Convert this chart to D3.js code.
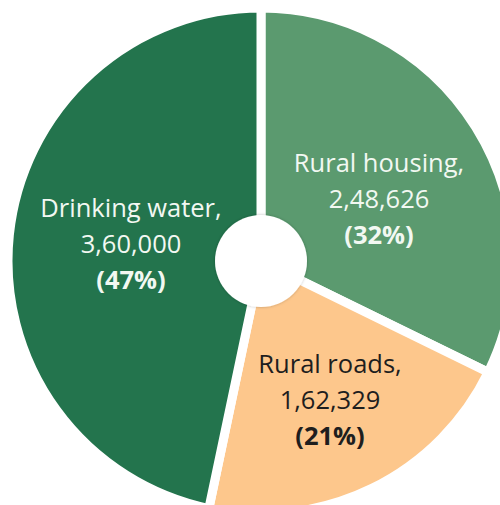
<!DOCTYPE html>
<html>
<head>
<meta charset="utf-8">
<script src="https://cdn.jsdelivr.net/npm/d3@7"></script>
<style>
  html, body { margin: 0; padding: 0; background: #fff; }
  svg { display: block; }
  text { font-family: "Open Sans", "Noto Sans", sans-serif; }
</style>
</head>
<body>
<svg id="chart" width="500" height="505"></svg>
<script>
const categories = ["Rural housing", "Rural roads", "Drinking water"];
const values = [248626, 162329, 360000];
const valueLabels = ["2,48,626", "1,62,329", "3,60,000"];
const percentLabels = ["(32%)", "(21%)", "(47%)"];
const colors = ["#5b9a6f", "#fdc78c", "#23744d"];
const textColors = ["#f2f8f2", "#1e1e1e", "#f2f8f2"];

const svg = d3.select("#chart");
const cx = 261, cy = 261, R = 253, holeR = 46;

const defs = svg.append("defs");
const f = defs.append("filter").attr("id", "sh").attr("x", "-30%").attr("y", "-30%").attr("width", "160%").attr("height", "160%");
f.append("feDropShadow").attr("dx", 0).attr("dy", 0).attr("stdDeviation", 1.5).attr("flood-color", "#000").attr("flood-opacity", 0.25);

const g = svg.append("g").attr("transform", `translate(${cx},${cy})`);

const pie = d3.pie().sort(null).value(d => d.value);
const data = categories.map((c, i) => ({ cat: c, value: values[i], vl: valueLabels[i], pl: percentLabels[i], color: colors[i], tc: textColors[i] }));
const arcs = pie(data);
const arc = d3.arc().innerRadius(0).outerRadius(R);

g.selectAll("path.slice").data(arcs).join("path")
  .attr("class", "slice")
  .attr("d", arc)
  .attr("fill", d => d.data.color)
  .attr("stroke", "#fff")
  .attr("stroke-width", 9)
  .attr("stroke-linejoin", "miter");

g.append("circle").attr("r", holeR).attr("fill", "#fff").attr("filter", "url(#sh)");

// label baseline positions (relative to center)
const labelPos = [[118, -89], [69, 112], [-130, -44]];
const fs = 25.5, lh = 36;
arcs.forEach((a, i) => {
  const [lx, ly] = labelPos[i];
  const t = g.append("text").attr("text-anchor", "middle").attr("fill", a.data.tc).attr("font-size", fs);
  t.append("tspan").attr("x", lx).attr("y", ly).text(a.data.cat + ",");
  t.append("tspan").attr("x", lx).attr("y", ly + lh).text(a.data.vl);
  t.append("tspan").attr("x", lx).attr("y", ly + 2 * lh).attr("font-weight", "bold").text(a.data.pl);
});
</script>
</body>
</html>
